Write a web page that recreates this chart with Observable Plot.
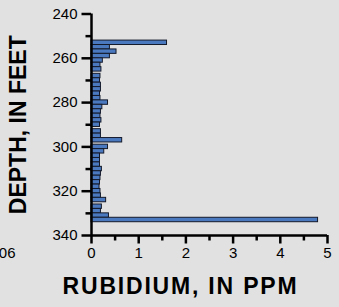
<!DOCTYPE html>
<html>
<head>
<meta charset="utf-8">
<script src="https://cdn.jsdelivr.net/npm/d3@7"></script>
<script src="https://cdn.jsdelivr.net/npm/@observablehq/plot@0.6"></script>
<style>
  html, body { margin: 0; padding: 0; background: #e1e1e1; }
  #chart svg { display: block; }
</style>
</head>
<body>
<div id="chart"></div>
<script>
// Sample intervals (feet) and rubidium concentrations (ppm)
const depthTop = [252,254,256,258,260,262,264,267,269,271,273,275,277,279,281,283,285,287,289,292,294,296,299,301,303,305,307,309,311,313,315,317,319,321,323,326,328,330,332];
const depthBottom = [254,256,258,260,262,264,266,269,271,273,275,277,279,281,283,285,287,289,291,294,296,298,301,303,305,307,309,311,313,315,317,319,321,323,325,328,330,332,334];
const rubidium = [1.6,0.39,0.53,0.39,0.24,0.19,0.21,0.19,0.18,0.20,0.20,0.18,0.19,0.35,0.23,0.20,0.19,0.21,0.18,0.20,0.20,0.65,0.35,0.27,0.18,0.18,0.18,0.22,0.20,0.19,0.18,0.17,0.19,0.20,0.31,0.22,0.20,0.37,4.8];

const yTicks = [240,260,280,300,320,340];
const yMinorTicks = [250,270,290,310,330];
const xTicks = [0,1,2,3,4,5];
const xMinorTicks = [0.5,1.5,2.5,3.5,4.5];

const xLabel = "RUBIDIUM, IN PPM";
const yLabel = "DEPTH, IN FEET";
const leftCutLabel = "06";

const data = depthTop.map((t, i) => ({top: t, bottom: depthBottom[i], value: rubidium[i]}));

const font = "'Liberation Sans', Arial, Helvetica, sans-serif";

const chart = Plot.plot({
  width: 339,
  height: 307,
  marginLeft: 91,
  marginRight: 12,
  marginTop: 13.5,
  marginBottom: 72,
  style: {background: "#e1e1e1", color: "black", fontFamily: font},
  x: {domain: [0, 5]},
  y: {domain: [240, 340], reverse: true},
  marks: [
    Plot.rectX(data, {x: "value", y1: "top", y2: "bottom", fill: "#4a79bf", stroke: "#141a2a", strokeWidth: 1, inset: 0}),
    // major ticks with labels
    Plot.axisY({ticks: yTicks, tickSize: 9.5, tickPadding: 4.5, fontSize: 15, stroke: "black", strokeWidth: 2.5, label: null}),
    Plot.axisX({ticks: xTicks, tickSize: 8.5, tickPadding: 3.5, tickFormat: "d", fontSize: 15, stroke: "black", strokeWidth: 2.5, label: null}),
    // minor ticks
    Plot.axisY({ticks: yMinorTicks, tickSize: 5.5, text: null, stroke: "black", strokeWidth: 2.5, label: null}),
    Plot.axisX({ticks: xMinorTicks, tickSize: 5.5, text: null, stroke: "black", strokeWidth: 2.5, label: null}),
    // axis lines
    Plot.ruleX([0], {y1: 240, y2: 340, strokeWidth: 2.5}),
    Plot.ruleY([340], {x1: 0, x2: 5, strokeWidth: 2.5}),
    // titles
    Plot.text([yLabel], {frameAnchor: "left", rotate: -90, dx: -72.5, fontSize: 23, fontWeight: "bold", textAnchor: "middle", lineAnchor: "middle"}),
    Plot.text([yLabel], {frameAnchor: "right", rotate: -90, dx: 26, fontSize: 23, fontWeight: "bold", textAnchor: "middle", lineAnchor: "middle"}),
    Plot.text([xLabel], {frameAnchor: "bottom", dx: -29, dy: 51.5, fontSize: 23, fontWeight: "bold", textAnchor: "middle", lineAnchor: "middle"}),
    Plot.text([leftCutLabel], {frameAnchor: "bottom-left", dx: -76, dy: 18, fontSize: 15, textAnchor: "end", lineAnchor: "middle"})
  ]
});
d3.select(chart).selectAll("text").filter(function() { return this.textContent === xLabel; })
  .attr("letter-spacing", "1.8px");
document.getElementById("chart").append(chart);
</script>
</body>
</html>
